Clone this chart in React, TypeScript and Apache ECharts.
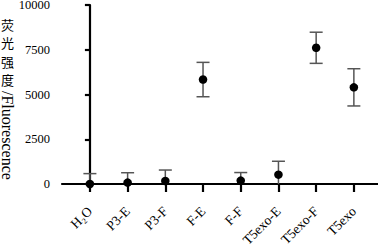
import React, { useEffect, useRef } from "react";
import * as echarts from "echarts";

const categories = ["H₂O", "P3-E", "P3-F", "F-E", "F-F", "T5exo-E", "T5exo-F", "T5exo"];
const means = [0, 80, 170, 5835, 190, 520, 7610, 5400];
const errors = [580, 550, 610, 960, 450, 750, 870, 1040];
const yTicks = [0, 2500, 5000, 7500, 10000];
const yNameCJK = ["荧", "光", "强", "度"];
const yNameLatin = "/Fluorescence";

const SERIF = "Liberation Serif";

export default function App() {
  const ref = useRef<HTMLDivElement>(null);
  useEffect(() => {
    if (!ref.current) return;
    const chart = echarts.init(ref.current, undefined, { renderer: "svg" });
    const idx = categories.map((_, i) => i);
    const option: any = {
      animation: false,
      backgroundColor: "#fff",
      textStyle: { fontFamily: SERIF, color: "#000" },
      grid: { left: 62, right: 0, top: 5, bottom: 64, containLabel: false, outerBoundsMode: "none" },
      xAxis: {
        type: "value",
        min: -0.74,
        max: 7.64,
        splitLine: { show: false },
        axisLine: { show: true, onZero: false, lineStyle: { color: "#000", width: 2.2 } },
        axisTick: { show: true, customValues: idx, length: 8, lineStyle: { color: "#000", width: 2.2 } },
        axisLabel: {
          customValues: idx,
          rotate: 45,
          margin: 25,
          fontFamily: SERIF,
          fontSize: 13.5,
          color: "#000",
          formatter: (v: number) => categories[Math.round(v)],
        },
      },
      yAxis: {
        type: "value",
        min: yTicks[0],
        max: yTicks[yTicks.length - 1],
        interval: yTicks[1] - yTicks[0],
        splitLine: { show: false },
        axisLine: { show: true, lineStyle: { color: "#000", width: 2.2 } },
        axisTick: { show: true, length: 5, lineStyle: { color: "#000", width: 2.2 } },
        axisLabel: {
          margin: 12,
          fontFamily: SERIF,
          fontSize: 12.5,
          color: "#000",
          formatter: (v: number) => String(v),
        },
      },
      graphic: [
        {
          type: "text",
          x: 1,
          y: 15,
          style: {
            text: yNameCJK.join("\n"),
            font: "13px 'Noto Sans CJK SC'",
            fill: "#000",
            lineHeight: 18.5,
          },
        },
        {
          type: "text",
          x: 7,
          y: 91,
          rotation: -Math.PI / 2,
          style: {
            text: yNameLatin,
            font: "16px 'Liberation Serif'",
            fill: "#000",
            align: "left",
            verticalAlign: "middle",
          },
        },
      ],
      series: [
        {
          type: "custom",
          z: 3,
          data: idx.map((i) => [i, means[i], errors[i]]),
          renderItem: (params: any, api: any) => {
            const x = api.value(0);
            const m = api.value(1);
            const e = api.value(2);
            const top = api.coord([x, m + e]);
            const bot = api.coord([x, m - e]);
            const cs = params.coordSys;
            const bottomEdge = cs.y + cs.height;
            const hw = 6.5;
            const style = { stroke: "#555", lineWidth: 1.5 };
            const children: any[] = [];
            const by = Math.min(bot[1], bottomEdge);
            children.push({ type: "line", shape: { x1: top[0], y1: top[1], x2: top[0], y2: by }, style });
            children.push({ type: "line", shape: { x1: top[0] - hw, y1: top[1], x2: top[0] + hw, y2: top[1] }, style });
            if (bot[1] <= bottomEdge) {
              children.push({ type: "line", shape: { x1: bot[0] - hw, y1: bot[1], x2: bot[0] + hw, y2: bot[1] }, style });
            }
            return { type: "group", children };
          },
        },
        {
          type: "scatter",
          z: 4,
          clip: false,
          symbol: "circle",
          symbolSize: 8.5,
          itemStyle: { color: "#000", opacity: 1 },
          data: idx.map((i) => [i, means[i]]),
        },
      ],
    };
    chart.setOption(option);
    return () => chart.dispose();
  }, []);
  return (
    <div
      ref={ref}
      style={{ position: "fixed", left: 0, top: 0, width: 378, height: 248, background: "#fff" }}
    />
  );
}
